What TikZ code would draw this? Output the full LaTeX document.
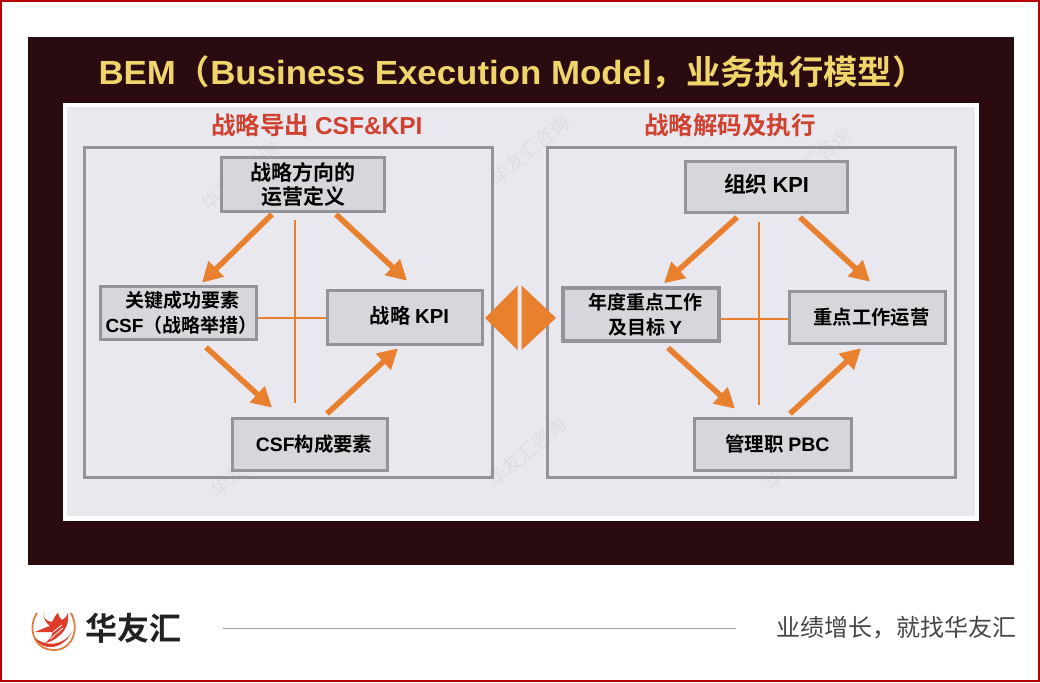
\documentclass[tikz,border=0pt]{standalone}
\usepackage{fontspec}
\usetikzlibrary{arrows.meta,calc}
\setmainfont{Liberation Sans}[BoldFont=Liberation Sans Bold]
\newfontfamily\cjkb{Noto Sans CJK SC Bold}
\newfontfamily\cjkr{Noto Sans CJK SC}
\newfontfamily\latb{Liberation Sans Bold}
\newfontfamily\cjkt[FakeStretch=1.025]{Noto Sans CJK SC Bold}
\newfontfamily\latt[FakeStretch=1.04]{Liberation Sans Bold}
\definecolor{bgdark}{HTML}{2A0C10}
\definecolor{panel}{HTML}{E9E8EF}
\definecolor{frame}{HTML}{92949A}
\definecolor{boxfill}{HTML}{D6D7DA}
\definecolor{org}{HTML}{E8802E}
\definecolor{heading}{HTML}{D0412F}
\definecolor{titley}{HTML}{EFD56A}
\definecolor{wm}{HTML}{DEDDE3}
\definecolor{logored}{HTML}{DE3B2A}
\definecolor{logoor}{HTML}{E27C3E}
\tikzset{
  x=1pt,y=-1pt,
  outerframe/.style={draw=frame,line width=3pt},
  kbox/.style={draw=frame,line width=3.6pt,fill=boxfill,inner sep=0pt,align=center,text=black},
  flow/.style={draw=org,line width=5.5pt,-{Triangle[length=20pt,width=21pt]}},
  cross/.style={draw=org,line width=1.7pt},
  headtxt/.style={text=heading,font=\cjkb\fontsize{24.5}{28}\selectfont},
  wmark/.style={text=wm,rotate=40,font=\cjkr\fontsize{19}{22}\selectfont},
}
\newcommand{\boxtxt}[1]{\fontsize{#1}{25}\selectfont\cjkb}
\begin{document}
\begin{tikzpicture}
\useasboundingbox (0,0) rectangle (1040,682);
\fill[white] (0,0) rectangle (1040,682);
\draw[draw={rgb,255:red,184;green,0;blue,0},line width=2pt] (1,1) rectangle (1039,681);
% dark backdrop
\fill[bgdark] (28,37) rectangle (1014,565);
\fill[white] (63,103) rectangle (979,521);
\fill[panel] (67,107) rectangle (975,516);
% title
\node[text=titley,anchor=center,font=\fontsize{33.5}{38}\selectfont] (title) at (512.5,72)
  {{\latt BEM}{\cjkt （}{\latt Business Execution Model}{\cjkt ，业务执行模型）}};
% watermarks
\node[wmark] (w1) at (240,176) {华友汇咨询};
\node[wmark] (w2) at (530,150) {华友汇咨询};
\node[wmark] (w3) at (812,162) {华友汇咨询};
\node[wmark] (w4) at (250,462) {华友汇咨询};
\node[wmark] (w5) at (527,452) {华友汇咨询};
\node[wmark] (w6) at (803,455) {华友汇咨询};
% headings
\node[headtxt] (h1) at (317,125) {战略导出 {\latb CSF\&KPI}};
\node[headtxt] (h2) at (730,125) {战略解码及执行};
% frames
\draw[outerframe] (84.5,147.5) rectangle (492,477);
\draw[outerframe] (547.5,147.5) rectangle (955,477);
% left boxes
\node[kbox,minimum width=163pt,minimum height=54pt] (a1) at (303,184.5) {\boxtxt{21}战略方向的\\[2pt]\boxtxt{21}运营定义};
\node[kbox,minimum width=156pt,minimum height=53pt] (a2) at (178.5,313) {\boxtxt{19}\hspace*{8pt}关键成功要素\\[6pt]\makebox[150pt]{\hspace*{6pt}\boxtxt{19}{\latb CSF}（战略举措）}};
\node[kbox,minimum width=155pt,minimum height=54pt] (a3) at (405,317.5) {\hspace*{9pt}\raisebox{-6.2pt}[7pt][7pt]{\boxtxt{20.3}战略 {\latb KPI}}};
\node[kbox,minimum width=155pt,minimum height=52pt] (a4) at (310,444.5) {\hspace*{8pt}\boxtxt{19.4}{\latb CSF}构成要素};
% right boxes
\node[kbox,minimum width=162pt,minimum height=51pt] (b1) at (766.5,187) {\raisebox{-5.3pt}[7pt][7pt]{\boxtxt{21.8}组织 {\latb KPI}}};
\node[kbox,minimum width=156pt,minimum height=53pt] (b2) at (641,314.5) {\hspace*{8pt}\boxtxt{19}年度重点工作\\[6pt]\hspace*{8pt}\boxtxt{19}及目标 {\latb Y}};
\node[kbox,minimum width=156pt,minimum height=52pt] (b3) at (867.5,317.5) {\hspace*{8pt}\boxtxt{19.3}重点工作运营};
\node[kbox,minimum width=157pt,minimum height=52pt] (b4) at (773,444.5) {\hspace*{9pt}\boxtxt{19.5}管理职 {\latb PBC}};
% thin crosses
\draw[cross] ($(a1.south)+(-8,7)$) coordinate (c1) -- ($(a4.north)+(-15,-14)$) coordinate (c2);
\draw[cross] (a2.east) ++(0,5) coordinate (c3) -- (c3 -| a3.west);
\draw[cross] ($(b1.south)+(-7.5,8)$) coordinate (d1) -- ($(b4.north)+(-14,-12)$) coordinate (d2);
\draw[cross] (b2.east) ++(0,4.5) coordinate (d3) -- (d3 -| b3.west);
% left arrows
\draw[flow] ($(a1.south)+(-31,1)$) -- ($(a2.north)+(23.5,-2)$);
\draw[flow] ($(a1.south)+(33,1)$) -- ($(a3.north)+(2,-8)$);
\draw[flow] ($(a2.south)+(27.5,6)$) -- ($(a4.north)+(-38,-9)$);
\draw[flow] ($(a4.north)+(17,-3)$) -- ($(a3.south)+(-7,2)$);
% right arrows
\draw[flow] ($(b1.south)+(-29.5,3)$) -- ($(b2.north)+(23,-3)$);
\draw[flow] ($(b1.south)+(33.5,3)$) -- ($(b3.north)+(2.5,-8)$);
\draw[flow] ($(b2.south)+(27,5)$) -- ($(b4.north)+(-38,-8)$);
\draw[flow] ($(b4.north)+(17,-3)$) -- ($(b3.south)+(-6.5,3)$);
% centre double diamond
\fill[org] (485,318) -- (517.5,285.5) -- (517.5,350) -- cycle;
\fill[org] (521.5,285.5) -- (556,318) -- (521.5,350) -- cycle;
% footer
\draw[draw={rgb,255:red,160;green,160;blue,160},line width=1pt] (223,628) -- (736,628);
\node[anchor=west,text={rgb,255:red,34;green,34;blue,34},font=\cjkb\fontsize{32}{36}\selectfont,inner sep=0pt] (brand) at (85,628) {华友汇};
\node[anchor=east,text={rgb,255:red,70;green,70;blue,70},font=\cjkr\fontsize{24}{28}\selectfont,inner sep=0pt] (slogan) at (1017,628) {业绩增长，就找华友汇};
% logo
\draw[logoor,line width=1.8pt] (37,613) .. controls (27,628) and (34,650) .. (54,650) .. controls (72,650) and (80,630) .. (71,613);
\fill[logored] (35,638) .. controls (42,651) and (62,651) .. (72,632) .. controls (63,646) and (46,647) .. (35,638) -- cycle;
\fill[logored] (43,612) .. controls (43,618) and (46,621) .. (52,622) .. controls (54,619) and (55,615) .. (58,613) .. controls (59,616) and (60,619) .. (62,620) .. controls (65,619) and (67,616) .. (68,613) .. controls (69,622) and (66,630) .. (60,635) .. controls (55,640) and (50,642) .. (45,643) .. controls (49,640) and (52,636) .. (53,632) -- (35,632) .. controls (40,630) and (46,627) .. (50,626) .. controls (46,623) and (43,618) .. (43,612) -- cycle;
\draw[white,line width=.8pt] (53,632) -- (62,625);
\draw[white,line width=.8pt] (50,639) -- (63,628);
\end{tikzpicture}
\end{document}
